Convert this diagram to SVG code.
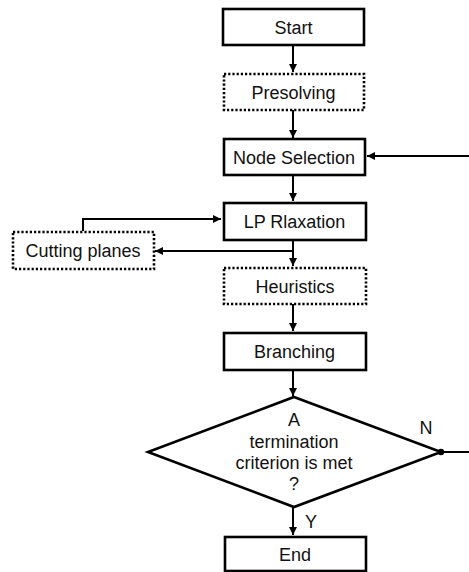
<svg xmlns="http://www.w3.org/2000/svg" width="469" height="572" viewBox="0 0 469 572">
<style>
.box{fill:#fff;stroke:#000;stroke-width:2.6}
.dot{fill:#fff;stroke:#000;stroke-width:2.6;stroke-dasharray:2.2 2}
.t{font-family:"Liberation Sans",Arial,sans-serif;font-size:18px;fill:#111;text-anchor:middle}
.c{fill:none;stroke:#000;stroke-width:2}
</style>
<defs>
<marker id="ah" markerWidth="8" markerHeight="8" refX="8" refY="4" orient="auto" markerUnits="userSpaceOnUse">
<path d="M0,0 L8,4 L0,8 Z" fill="#000"/>
</marker>
</defs>
<g id="connectors">
<path class="c" d="M293,45 V72" marker-end="url(#ah)"/>
<path class="c" d="M293,110 V138" marker-end="url(#ah)"/>
<path class="c" d="M469,156 H367" marker-end="url(#ah)"/>
<path class="c" d="M293,175 V201" marker-end="url(#ah)"/>
<path class="c" d="M83,231 V219 H221" marker-end="url(#ah)"/>
<path class="c" d="M293,240 V266" marker-end="url(#ah)"/>
<path class="c" d="M293,251 H155" marker-end="url(#ah)"/>
<path class="c" d="M293,304 V331" marker-end="url(#ah)"/>
<path class="c" d="M293,370 V396" marker-end="url(#ah)"/>
<path class="c" d="M293,507 V535" marker-end="url(#ah)"/>
<path class="c" d="M441,452 H469"/>
<circle cx="441" cy="452" r="3.2" fill="#000"/>
<text class="t" x="426" y="434">N</text>
<text class="t" x="311" y="528">Y</text>
</g>
<g id="start"><rect class="box" x="223" y="9" width="141" height="36"/><text class="t" x="293.5" y="33.5">Start</text></g>
<g id="presolving"><rect class="dot" x="224" y="74" width="140" height="36"/><text class="t" x="293.5" y="98.5">Presolving</text></g>
<g id="node-selection"><rect class="box" x="224" y="139" width="141" height="36"/><text class="t" x="294" y="163.5">Node Selection</text></g>
<g id="lp-relaxation"><rect class="box" x="224" y="203" width="142" height="37"/><text class="t" x="294.5" y="228">LP Rlaxation</text></g>
<g id="cutting-planes"><rect class="dot" x="13" y="232" width="141" height="37"/><text class="t" x="83" y="257">Cutting planes</text></g>
<g id="heuristics"><rect class="dot" x="224" y="268" width="142" height="36"/><text class="t" x="295" y="292.5">Heuristics</text></g>
<g id="branching"><rect class="box" x="224" y="333" width="142" height="37"/><text class="t" x="294.5" y="357.5">Branching</text></g>
<g id="decision"><path class="box" d="M294,397 L441,452 L294,507 L148,452 Z"/>
<text class="t" x="294" y="426">A</text>
<text class="t" x="294" y="448">termination</text>
<text class="t" x="294" y="469">criterion is met</text>
<text class="t" x="294" y="490">?</text></g>
<g id="end"><rect class="box" x="225" y="537" width="141" height="34"/><text class="t" x="295" y="560.5">End</text></g>
</svg>
